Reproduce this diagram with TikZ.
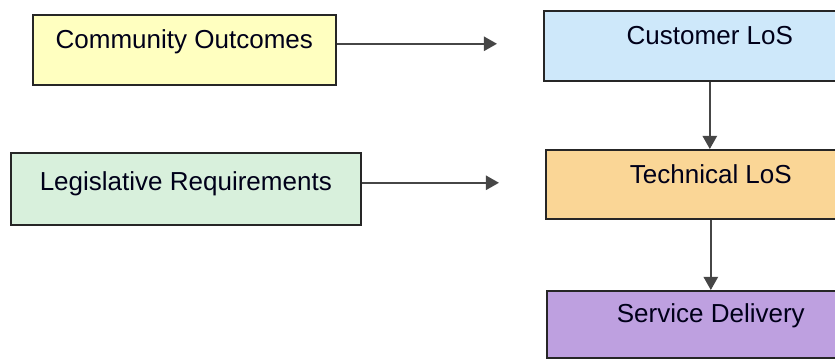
\documentclass[tikz,border=0pt]{standalone}
\usepackage{fontspec}
\setmainfont{Liberation Sans}
\usetikzlibrary{arrows.meta, positioning}
\definecolor{boxyellow}{RGB}{255,255,192}
\definecolor{boxblue}{RGB}{206,232,250}
\definecolor{boxgreen}{RGB}{216,240,220}
\definecolor{boxorange}{RGB}{250,214,150}
\definecolor{boxpurple}{RGB}{190,160,224}
\definecolor{linegray}{RGB}{70,70,70}

\begin{document}
\begin{tikzpicture}[x=0.025cm, y=-0.025cm,
  BX/.style ={draw=black!85, line width=1.1pt, anchor=north west, inner sep=0pt,
              text height=0.85cm, text depth=0.9cm, align=center,
              font=\fontsize{18.5}{21}\selectfont, text=black!90!blue},
  AR/.style ={-{Triangle[length=0.33cm, width=0.36cm]}, line width=1.3pt, linegray},
]
  \useasboundingbox (0,0) rectangle (835,358);
  \node[BX, fill=boxyellow, minimum width=7.575cm] (co) at (32,14) {Community Outcomes};
  \node[BX, fill=boxgreen, minimum width=8.75cm, text height=0.95cm, text depth=0.85cm] (leg) at (10,152)
    {Legislative Requirements};
  \node[BX, fill=boxblue, minimum width=8.3cm] (cust) at (543,10) {Customer LoS};
  \node[BX, fill=boxorange, minimum width=8.25cm, text depth=0.875cm] (tech) at (545,149) {Technical LoS};
  \node[BX, fill=boxpurple, minimum width=8.2cm, text height=0.8cm, text depth=0.875cm] (serv) at (546,290)
    {Service Delivery};

  \foreach \a/\b in {co/cust,leg/tech}
    \draw[AR, shorten >=1.15cm] ([yshift=0.15cm]\a.east) -- ([yshift=0.15cm]\a.east -| \b.west);
  \foreach \a/\b in {cust/tech,tech/serv}
    \draw[AR] (\a.south) -- (\a.south |- \b.north);
\end{tikzpicture}
\end{document}
